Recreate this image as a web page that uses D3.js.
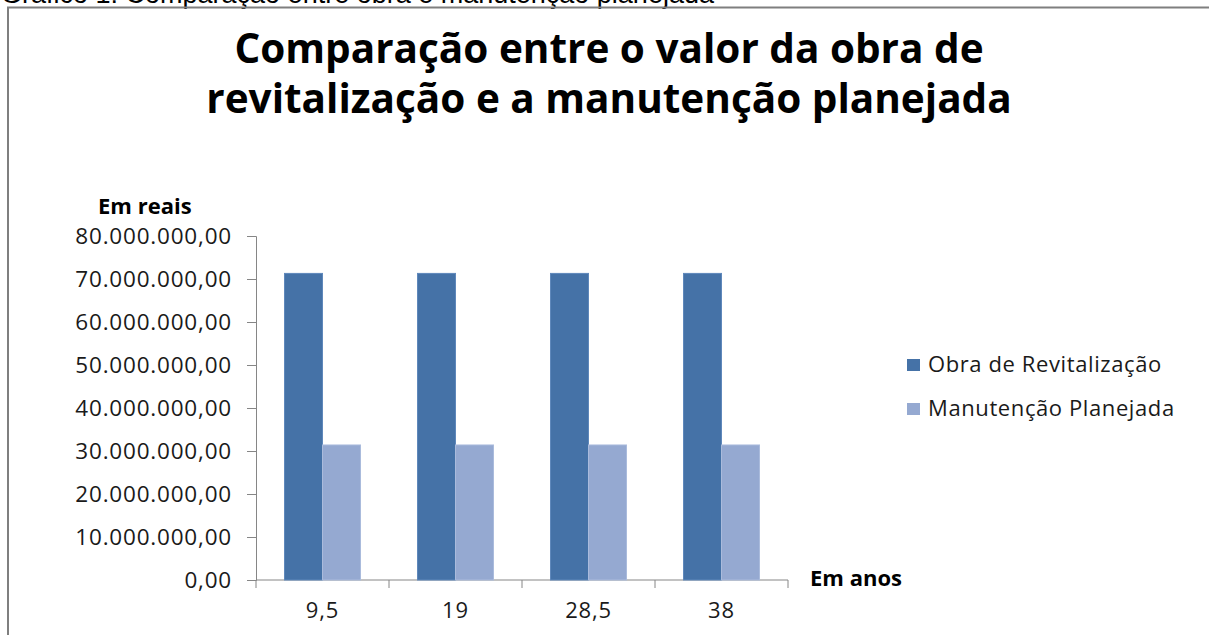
<!DOCTYPE html>
<html>
<head>
<meta charset="utf-8">
<script src="https://d3js.org/d3.v7.min.js"></script>
<style>
  body { margin: 0; background: #fff; }
  svg { display: block; }
  text { font-family: "Open Sans", Arial, sans-serif; fill: #1a1a1a; }
</style>
</head>
<body>
<svg id="viz" width="1209" height="635"></svg>
<script>
// chart data
const categories = ["9,5", "19", "28,5", "38"];
const seriesNames = ["Obra de Revitalização", "Manutenção Planejada"];
const obra = [71300000, 71300000, 71300000, 71300000];
const manutencao = [31400000, 31400000, 31400000, 31400000];
const yTicks = [0, 10000000, 20000000, 30000000, 40000000, 50000000, 60000000, 70000000, 80000000];
const colors = ["#4572a7", "#95a9d1"];

const svg = d3.select("#viz");

// brazilian number format
const ptBR = d3.formatLocale({decimal: ",", thousands: ".", grouping: [3], currency: ["R$", ""]});
const fmt = ptBR.format(",.2f");

// caption cut at the top of the page
svg.append("text")
  .attr("x", 1).attr("y", 3)
  .style("font-family", "Arial, 'Liberation Sans', sans-serif")
  .style("font-size", "27px")
  .style("fill", "#000")
  .text("Gráfico 1: Comparação entre obra e manutenção planejada");

// chart frame
svg.append("path")
  .attr("d", "M8,640V7.5H1212")
  .attr("fill", "none")
  .attr("stroke", "#7f7f7f")
  .attr("stroke-width", 2);

// title
const title = svg.append("text")
  .attr("text-anchor", "middle")
  .style("font-size", "40.5px")
  .style("font-weight", "bold")
  .style("fill", "#000");
title.append("tspan").attr("x", 609).attr("y", 63).text("Comparação entre o valor da obra de");
title.append("tspan").attr("x", 609).attr("y", 113).text("revitalização e a manutenção planejada");

const plotLeft = 256, plotRight = 788, plotTop = 236, plotBottom = 580;

const y = d3.scaleLinear().domain([0, 80000000]).range([plotBottom, plotTop]);
const x0 = d3.scaleBand().domain(categories).range([plotLeft, plotRight]).paddingInner(0).paddingOuter(0);
const x1 = d3.scaleBand().domain(seriesNames).range([0, x0.bandwidth()]).paddingInner(0).paddingOuter(0.75);

const axisColor = "#868686";

// y axis
const yAxis = d3.axisLeft(y).tickValues(yTicks).tickFormat(fmt).tickSize(9).tickPadding(15);
const gy = svg.append("g").attr("transform", "translate(" + plotLeft + ",0)").call(yAxis);
gy.select(".domain").attr("stroke", axisColor);
gy.selectAll(".tick line").attr("stroke", axisColor);
gy.selectAll(".tick text")
  .style("font-size", "22.5px")
  .style("letter-spacing", "0.8px")
  .style("font-family", "'Open Sans', sans-serif")
  .attr("fill", "#1a1a1a");

// x axis, ticks between groups
const xEdges = categories.map(c => x0(c)).concat([plotRight]);
svg.append("line")
  .attr("x1", plotLeft).attr("x2", plotRight)
  .attr("y1", y(0)).attr("y2", y(0))
  .attr("stroke", axisColor);
svg.selectAll(".xtick")
  .data(xEdges)
  .enter().append("line")
  .attr("x1", d => d).attr("x2", d => d)
  .attr("y1", y(0)).attr("y2", y(0) + 8)
  .attr("stroke", axisColor);
svg.selectAll(".xlabel")
  .data(categories)
  .enter().append("text")
  .attr("x", d => x0(d) + x0.bandwidth() / 2)
  .attr("y", 618)
  .attr("text-anchor", "middle")
  .style("font-size", "22px")
  .style("letter-spacing", "0.8px")
  .text(d => d);

// bars
const rows = categories.map((c, i) => ({cat: c, values: [obra[i], manutencao[i]]}));
const groups = svg.append("g").selectAll("g")
  .data(rows)
  .enter().append("g")
  .attr("transform", d => "translate(" + x0(d.cat) + ",0)");
groups.selectAll("rect")
  .data(d => d.values.map((v, j) => ({name: seriesNames[j], value: v, j: j})))
  .enter().append("rect")
  .attr("x", d => x1(d.name))
  .attr("y", d => y(d.value))
  .attr("width", x1.bandwidth())
  .attr("height", d => y(0) - y(d.value))
  .attr("fill", d => colors[d.j])
  .attr("stroke", d => d.j == 0 ? "#5f88bb" : "#aabbdc")
  .attr("stroke-width", 1);

// axis titles
svg.append("text")
  .attr("x", 98).attr("y", 214)
  .style("font-size", "22px").style("font-weight", "bold").style("fill", "#000")
  .text("Em reais");
svg.append("text")
  .attr("x", 810).attr("y", 586)
  .style("font-size", "22px").style("font-weight", "bold").style("fill", "#000")
  .text("Em anos");

// legend
const legend = svg.append("g").selectAll("g")
  .data(seriesNames)
  .enter().append("g")
  .attr("transform", (d, i) => "translate(907," + (359 + i * 44) + ")");
legend.append("rect")
  .attr("width", 13).attr("height", 12)
  .attr("fill", (d, i) => colors[i]);
legend.append("text")
  .attr("x", 21).attr("y", 13)
  .style("font-size", "22px")
  .style("letter-spacing", "0.6px")
  .text(d => d);
</script>
</body>
</html>
